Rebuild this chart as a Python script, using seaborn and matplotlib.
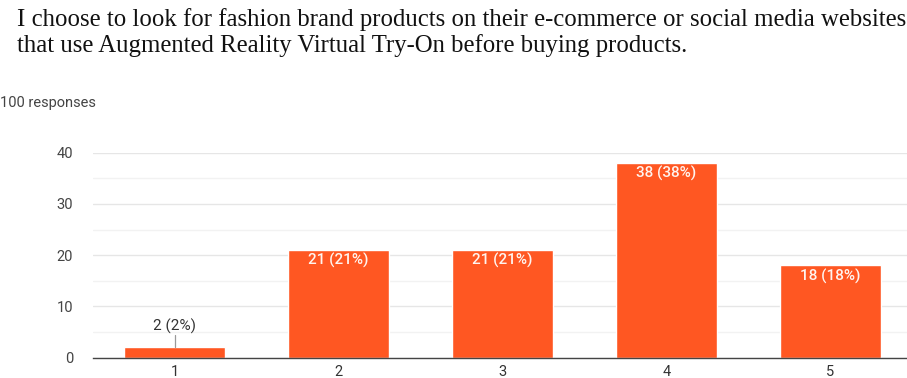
import matplotlib
matplotlib.use("Agg")
import matplotlib.pyplot as plt
import seaborn as sns
import pandas as pd

categories = ["1", "2", "3", "4", "5"]
counts = [2, 21, 21, 38, 18]
total_responses = 100
y_ticks = [0, 10, 20, 30, 40]

title_lines = [
    "I choose to look for fashion brand products on their e-commerce or social media websites",
    "that use Augmented Reality Virtual Try-On before buying products.",
]

df = pd.DataFrame({"rating": categories, "count": counts})

sns.set_style("white")
plt.rcParams["font.family"] = ["Roboto", "DejaVu Sans"]

W, H = 907, 378
fig = plt.figure(figsize=(W / 100, H / 100), dpi=100)
ax = fig.add_axes([92.5 / W, (H - 357.7) / H, 820 / W, 205 / H])

bar_color = "#ff5722"
sns.barplot(data=df, x="rating", y="count", color=bar_color, width=0.616,
            saturation=1, ax=ax, zorder=3)

ax.set_xlim(-0.5, 4.5)
ax.set_ylim(0, 40)
ax.set_yticks(y_ticks)
ax.set_yticks([5, 15, 25, 35], minor=True)
ax.grid(axis="y", which="major", color="#e6e6e6", linewidth=1.0, zorder=0)
ax.grid(axis="y", which="minor", color="#f2f2f2", linewidth=1.0, zorder=0)
ax.tick_params(axis="y", which="both", length=0, pad=14, labelsize=10.5, labelcolor="#444444")
ax.tick_params(axis="x", length=0, pad=5, labelsize=10.5, labelcolor="#333333")
ax.set_xlabel("")
ax.set_ylabel("")
for side in ["top", "right", "left"]:
    ax.spines[side].set_visible(False)
ax.spines["bottom"].set_color("#444444")
ax.spines["bottom"].set_linewidth(1.0)
ax.spines["bottom"].set_zorder(4)

for i, c in enumerate(counts):
    pct = round(100 * c / total_responses)
    label = f"{c} ({pct}%)"
    if c >= 10:
        ax.text(i, c - 0.6, label, ha="center", va="top", color="#fff4ef",
                fontsize=11, fontweight="medium", zorder=5)
    else:
        ax.plot([i, i], [c, c + 2.4], color="#999999", linewidth=0.9, zorder=4)
        ax.text(i, c + 2.6, label, ha="center", va="bottom", color="#333333",
                fontsize=11, zorder=5)

serif = ["Liberation Serif", "DejaVu Serif"]
for k, line in enumerate(title_lines):
    fig.text(17 / W, 1 - (20 + 26 * k) / H, line, ha="left", va="center",
             fontsize=17.8, family=serif, color="#111111")
fig.text(0, 1 - 103 / H, f"{total_responses} responses", ha="left", va="center",
         fontsize=10.5, color="#444444")

fig.savefig("out.png", dpi=100)
